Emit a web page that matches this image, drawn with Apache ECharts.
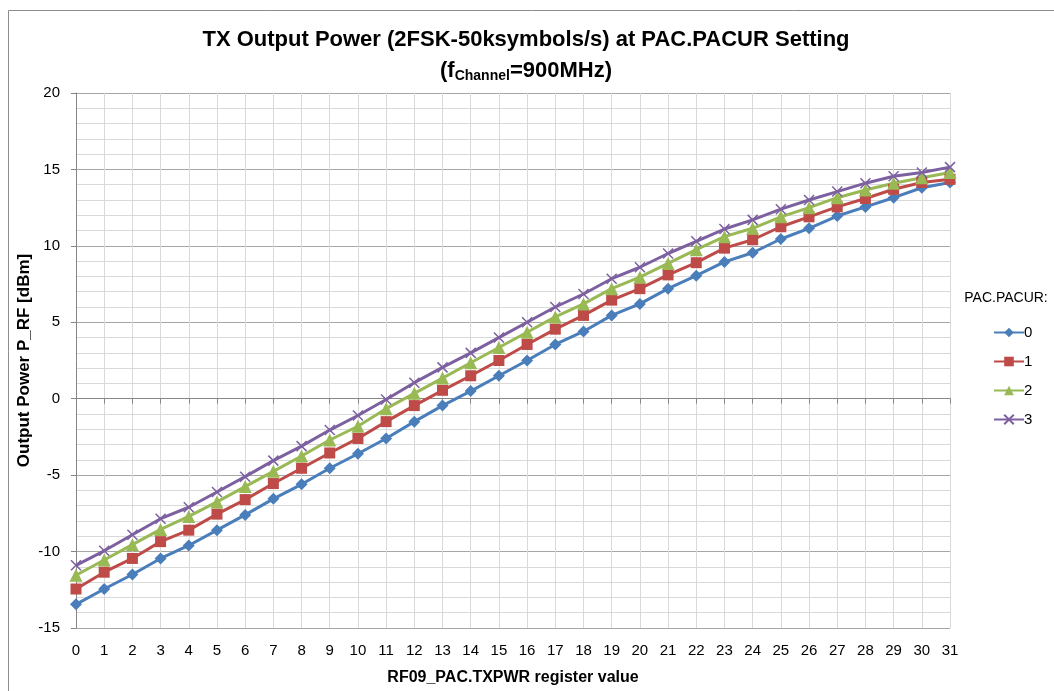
<!DOCTYPE html>
<html>
<head>
<meta charset="utf-8">
<title>TX Output Power vs PAC.TXPWR</title>
<script src="https://cdn.jsdelivr.net/npm/echarts@6/dist/echarts.min.js"></script>
<style>
  html, body { margin: 0; padding: 0; background: #ffffff; }
  #chart { width: 1054px; height: 691px; }
</style>
</head>
<body>
<div id="chart"></div>
<script>
// RF09_PAC.TXPWR register settings (x axis)
const txpwr = ['0','1','2','3','4','5','6','7','8','9','10','11','12','13','14','15',
               '16','17','18','19','20','21','22','23','24','25','26','27','28','29','30','31'];

// Output power P_RF [dBm] for each PAC.PACUR setting
const pacur0 = [-13.45, -12.45, -11.5, -10.45, -9.6, -8.6, -7.6, -6.55, -5.6, -4.55, -3.6, -2.6,
                -1.5, -0.45, 0.5, 1.5, 2.5, 3.55, 4.4, 5.45, 6.2, 7.2, 8.05, 8.95,
                9.55, 10.45, 11.15, 11.95, 12.55, 13.15, 13.8, 14.15];
const pacur1 = [-12.45, -11.35, -10.45, -9.35, -8.6, -7.55, -6.6, -5.55, -4.55, -3.55, -2.6, -1.5,
                -0.45, 0.55, 1.5, 2.5, 3.55, 4.55, 5.45, 6.45, 7.2, 8.1, 8.9, 9.85,
                10.4, 11.25, 11.9, 12.55, 13.1, 13.7, 14.15, 14.35];
const pacur2 = [-11.55, -10.55, -9.55, -8.55, -7.7, -6.75, -5.75, -4.75, -3.75, -2.7, -1.8, -0.65,
                0.35, 1.35, 2.35, 3.35, 4.35, 5.35, 6.2, 7.2, 7.95, 8.85, 9.75, 10.6,
                11.15, 11.9, 12.5, 13.15, 13.65, 14.1, 14.45, 14.8];
const pacur3 = [-10.9, -9.95, -8.9, -7.85, -7.1, -6.1, -5.1, -4.05, -3.1, -2.05, -1.1, -0.05,
                1.05, 2.05, 3.0, 4.0, 5.0, 6.0, 6.85, 7.85, 8.6, 9.5, 10.3, 11.1,
                11.7, 12.4, 13.0, 13.55, 14.1, 14.55, 14.8, 15.15];

const seriesNames = ['0', '1', '2', '3'];
const seriesColors = ['#4A7EBB', '#BE4B48', '#98B954', '#7D60A0'];

const FONT = '"Liberation Sans", Arial, sans-serif';
const crossSymbol = 'path://M0,0L10,10M10,0L0,10';

function makeSeries(name, data, color, symbol, size, extra) {
  return Object.assign({
    name: name,
    type: 'line',
    data: data,
    symbol: symbol,
    symbolSize: size,
    showAllSymbol: true,
    lineStyle: { color: color, width: 3 },
    itemStyle: { color: color },
    emphasis: { disabled: true },
    z: 3
  }, extra || {});
}

const chart = echarts.init(document.getElementById('chart'), null, { renderer: 'canvas' });

chart.setOption({
  animation: false,
  backgroundColor: '#ffffff',
  title: [
    {
      left: 521,
      top: 19,
      textAlign: 'center',
      text: '{a|TX Output Power (2FSK-50ksymbols/s) at PAC.PACUR Setting}\n{a|(f}{sub|Channel}{a|=900MHz)}',
      textStyle: {
        rich: {
          a: { fontFamily: FONT, fontSize: 22, fontWeight: 'bold', color: '#000', lineHeight: 31 },
          sub: { fontFamily: FONT, fontSize: 14, fontWeight: 'bold', color: '#000', lineHeight: 31, padding: [12, 0, 0, 0] }
        }
      }
    },
    {
      left: 1001,
      top: 286,
      textAlign: 'center',
      text: 'PAC.PACUR:',
      textStyle: { fontFamily: FONT, fontSize: 14, fontWeight: 'normal', color: '#000' }
    }
  ],
  legend: {
    orient: 'vertical',
    left: 988,
    top: 320,
    itemWidth: 30,
    itemHeight: 12,
    itemGap: 14,
    selectedMode: false,
    textStyle: { fontFamily: FONT, fontSize: 15, color: '#000', padding: [0, 0, 0, -5] },
    data: seriesNames
  },
  grid: { left: 76, top: 93, width: 874, height: 537, containLabel: false },
  xAxis: {
    type: 'category',
    data: txpwr,
    boundaryGap: false,
    name: 'RF09_PAC.TXPWR register value',
    nameLocation: 'middle',
    nameGap: 42,
    nameMoveOverlap: false,
    nameTextStyle: { fontFamily: FONT, fontSize: 16, fontWeight: 'bold', color: '#000' },
    axisLine: { show: true, lineStyle: { color: '#868686', width: 1 } },
    axisTick: { show: true, length: 5, interval: 0, lineStyle: { color: '#868686' } },
    axisLabel: { interval: 0, margin: 15, fontFamily: FONT, fontSize: 15, color: '#000' },
    splitLine: { show: true, interval: 0, lineStyle: { color: '#d9d9d9', width: 1 } }
  },
  yAxis: {
    type: 'value',
    min: -15,
    max: 20,
    interval: 5,
    name: 'Output Power P_RF [dBm]',
    nameLocation: 'middle',
    nameRotate: 90,
    nameGap: 43,
    nameMoveOverlap: false,
    nameTextStyle: { fontFamily: FONT, fontSize: 17, fontWeight: 'bold', color: '#000' },
    axisLine: { show: true, lineStyle: { color: '#868686', width: 1 } },
    axisTick: { show: true, length: 5, lineStyle: { color: '#868686' } },
    axisLabel: { margin: 16, fontFamily: FONT, fontSize: 15, color: '#000' },
    splitLine: { show: true, lineStyle: { color: '#a6a6a6', width: 1 } },
    minorTick: { show: false, splitNumber: 5 },
    minorSplitLine: { show: true, lineStyle: { color: '#d9d9d9', width: 1 } }
  },
  graphic: [
    {
      type: 'rect',
      silent: true,
      shape: { x: 8.5, y: 10.5, width: 1200, height: 900 },
      style: { fill: 'none', stroke: '#8c8c8c', lineWidth: 1 },
      z: -1
    }
  ],
  series: [
    makeSeries(seriesNames[0], pacur0, seriesColors[0], 'diamond', 12),
    makeSeries(seriesNames[1], pacur1, seriesColors[1], 'rect', 11),
    makeSeries(seriesNames[2], pacur2, seriesColors[2], 'triangle', 13),
    makeSeries(seriesNames[3], pacur3, seriesColors[3], crossSymbol, 10, {
      itemStyle: { color: seriesColors[3], borderColor: seriesColors[3], borderWidth: 1.5 }
    })
  ]
});
</script>
</body>
</html>
